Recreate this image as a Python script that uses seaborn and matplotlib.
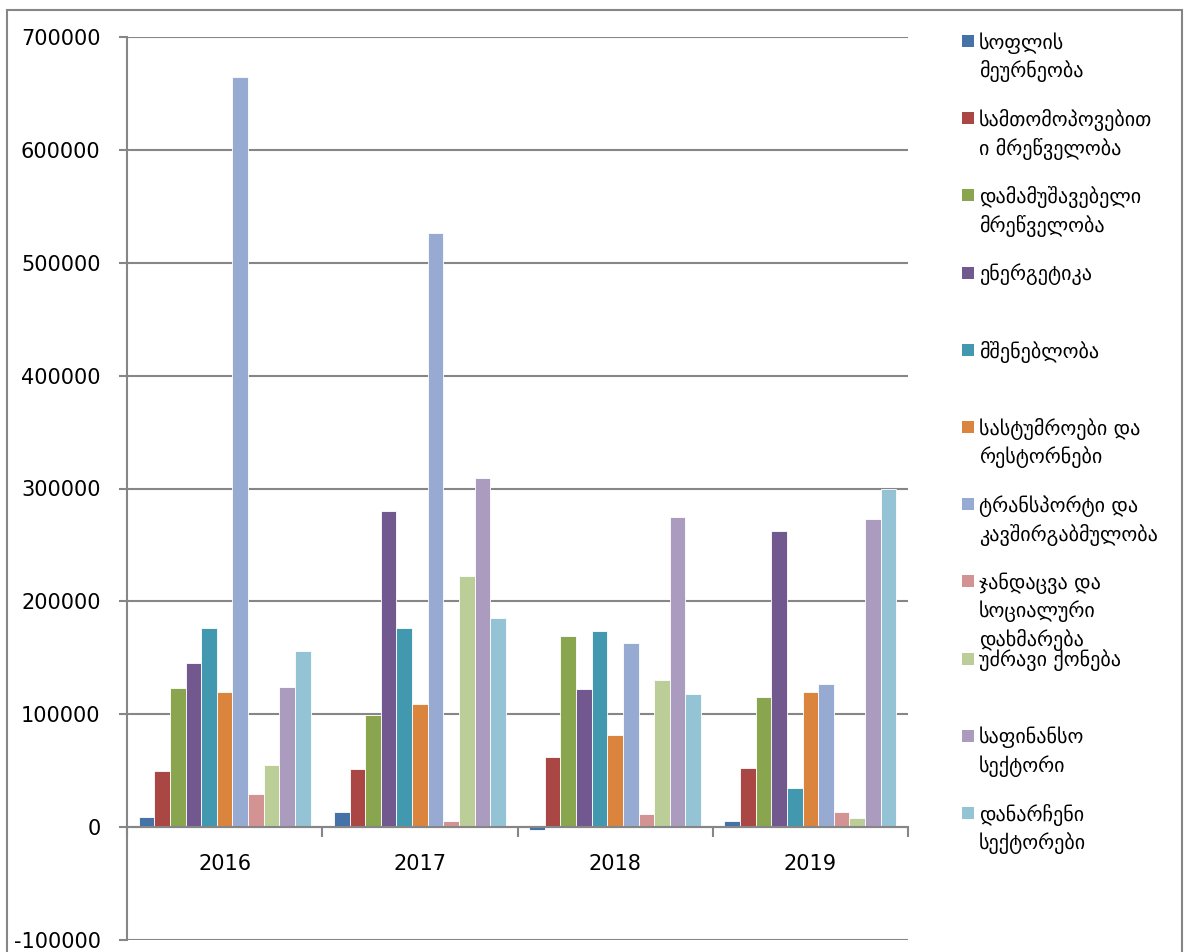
import pandas as pd
import numpy as np
import matplotlib.pyplot as plt
import matplotlib.patches as mpatches
import seaborn as sns

years = ['2016', '2017', '2018', '2019']

sectors = [
    'სოფლის\nმეურნეობა',
    'სამთომოპოვებით\nი მრეწველობა',
    'დამამუშავებელი\nმრეწველობა',
    'ენერგეტიკა',
    'მშენებლობა',
    'სასტუმროები და\nრესტორნები',
    'ტრანსპორტი და\nკავშირგაბმულობა',
    'ჯანდაცვა და\nსოციალური\nდახმარება',
    'უძრავი ქონება',
    'საფინანსო\nსექტორი',
    'დანარჩენი\nსექტორები',
]

# values per sector, one entry per year (2016..2019)
soflis = [9000, 13700, -2300, 5300]
samtomopovebiti = [49500, 51300, 62000, 52000]
damamushavebeli = [123400, 99400, 169700, 115400]
energetika = [145400, 279700, 122200, 262200]
mshenebloba = [176800, 176800, 173800, 35000]
sastumroebi = [119800, 109200, 81900, 120100]
transporti = [664300, 526400, 163200, 126700]
jandacva = [29100, 5300, 11900, 13100]
udzravi = [55200, 222800, 130500, 8000]
safinanso = [124000, 309300, 274400, 272600]
danarcheni = [156300, 185400, 117800, 299600]

series = [soflis, samtomopovebiti, damamushavebeli, energetika, mshenebloba,
          sastumroebi, transporti, jandacva, udzravi, safinanso, danarcheni]

colors = ['#4572A7', '#AA4643', '#89A54E', '#71588F', '#4198AF', '#DB843D',
          '#96AAD2', '#D39392', '#BBCE97', '#AA9BBF', '#93C3D5']

rows = []
for name, vals in zip(sectors, series):
    for y, v in zip(years, vals):
        rows.append({'year': y, 'sector': name, 'value': v})
df = pd.DataFrame(rows)

sns.set_theme(style='white')
plt.rcParams['font.family'] = ['DejaVu Sans']
plt.rcParams['axes.unicode_minus'] = False

W, H = 1187, 952
fig = plt.figure(figsize=(W / 100, H / 100), dpi=100)
ax = fig.add_axes([127 / W, (H - 940) / H, (908 - 127) / W, (940 - 37) / H])

sns.barplot(data=df, x='year', y='value', hue='sector', hue_order=sectors,
            order=years, palette=colors, saturation=1, width=0.88, gap=0,
            errorbar=None, edgecolor='white', linewidth=0.6, legend=False, ax=ax)

grid_col = '#868686'
ax.set_xlim(-0.5, 3.5)
ax.set_ylim(-100000, 700000)
ax.set_yticks(np.arange(-100000, 700001, 100000))
ax.yaxis.grid(True, color=grid_col, linewidth=1.5)
ax.set_axisbelow(True)

for s in ['top', 'right']:
    ax.spines[s].set_visible(False)
ax.spines['left'].set_color(grid_col)
ax.spines['left'].set_linewidth(1.5)
ax.spines['bottom'].set_position(('data', 0))
ax.spines['bottom'].set_color(grid_col)
ax.spines['bottom'].set_linewidth(1.5)

ax.set_xticks(range(len(years)))
ax.set_xticklabels(years)
ax.set_xticks(np.arange(-0.5, 3.6, 1), minor=True)
ax.tick_params(axis='x', which='major', length=0, pad=19, labelsize=15, colors='black')
ax.tick_params(axis='x', which='minor', length=7, width=1.5, color=grid_col, direction='out', bottom=True)
ax.tick_params(axis='y', length=6, width=1.5, color=grid_col, direction='out', left=True,
               pad=13, labelsize=15, labelcolor='black')
ax.set_xlabel('')
ax.set_ylabel('')

# outer chart border
fig.add_artist(mpatches.Rectangle((7 / W, -0.01), (1182 - 7) / W, (H - 10) / H + 0.01,
                                  transform=fig.transFigure, fill=False,
                                  edgecolor=grid_col, linewidth=1.5))

# legend on the right, Excel-like fixed slots
for i, (name, c) in enumerate(zip(sectors, colors)):
    yc = 41 + 77.2 * i
    fig.add_artist(mpatches.Rectangle((962 / W, (H - yc - 6) / H), 12 / W, 12 / H,
                                      transform=fig.transFigure, facecolor=c, edgecolor='none'))
    fig.text(979 / W, (H - yc + 9) / H, name, fontsize=14.5, va='top', ha='left',
             linespacing=1.4, color='black')

fig.savefig('out.png', dpi=100)
